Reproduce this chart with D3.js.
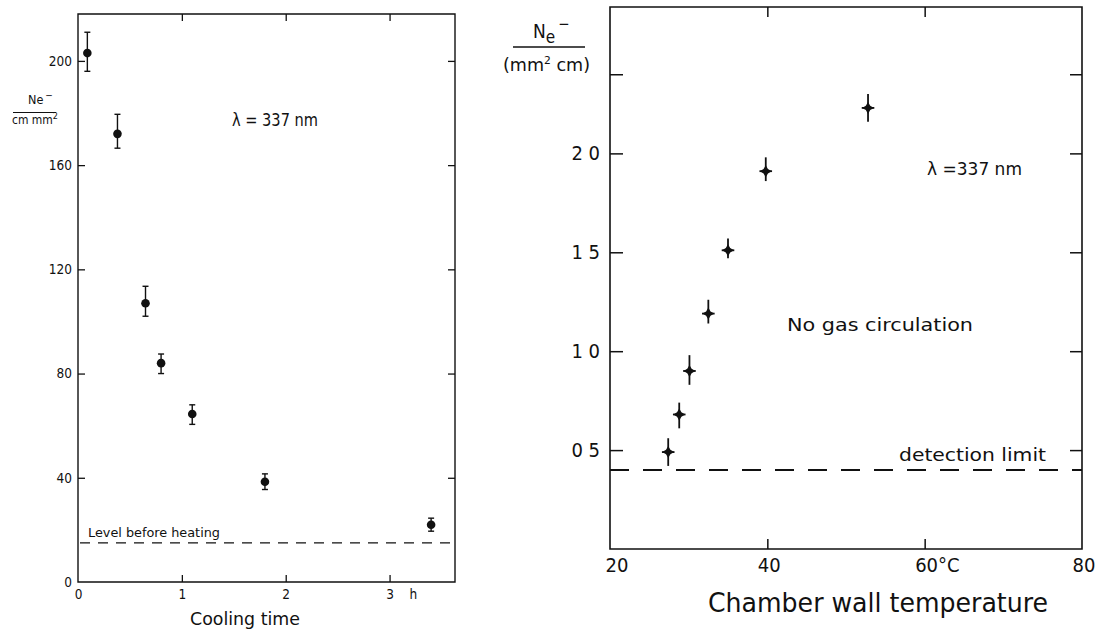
<!DOCTYPE html>
<html>
<head>
<meta charset="utf-8">
<script src="https://cdn.jsdelivr.net/npm/d3@7"></script>
<style>
  html, body { margin: 0; padding: 0; background: #fff; }
  svg { display: block; }
  text { font-family: "DejaVu Sans Condensed", "Liberation Sans Narrow", "DejaVu Sans", sans-serif; fill: #111; }
</style>
</head>
<body>
<svg id="chart" width="1096" height="629"></svg>
<script>
// ---------- Left panel data (cooling time) ----------
const coolTime   = [0.09, 0.38, 0.65, 0.80, 1.10, 1.80, 3.40];
const coolValue  = [203, 172, 107, 84, 64.5, 38.5, 22];
const coolErrHi  = [211, 179.5, 113.5, 87.5, 68, 41.5, 24.5];
const coolErrLo  = [196, 166.5, 102, 80, 60.5, 35.5, 19.5];
const levelBeforeHeating = 15;
const leftYTicks = [0, 40, 80, 120, 160, 200];
const leftYTickLabels = ["0", "40", "80", "120", "160", "200"];
const leftXTicks = [0, 1, 2, 3];
const leftXTickLabels = ["0", "1", "2", "3"];

// ---------- Right panel data (chamber wall temperature) ----------
const wallTemp   = [27.4, 28.8, 30.1, 32.5, 35.0, 39.8, 52.8];
const wallTempErr = [0.8, 0.8, 0.8, 0.8, 0.8, 0.8, 0.8];
const neValue    = [0.49, 0.68, 0.90, 1.19, 1.51, 1.91, 2.23];
const neErrHi    = [0.56, 0.74, 0.98, 1.26, 1.57, 1.98, 2.30];
const neErrLo    = [0.42, 0.61, 0.83, 1.14, 1.47, 1.86, 2.16];
const detectionLimit = 0.40;
const rightXTicks = [20, 40, 60, 80];
const rightXTickLabels = ["20", "40", "60°C", "80"];
const rightYTicks = [0.5, 1.0, 1.5, 2.0, 2.4];
const rightYTickLabels = ["0 5", "1 0", "1 5", "2 0", ""];

const svg = d3.select("#chart");
const ink = "#111";

function fitText(sel, w) {
  sel.attr("textLength", w).attr("lengthAdjust", "spacingAndGlyphs");
  return sel;
}

// =================== LEFT PANEL ===================
const L = { x0: 78, x1: 455, y0: 14, y1: 582 };
const xL = d3.scaleLinear().domain([0, 3.63]).range([L.x0, L.x1]);
const yL = d3.scaleLinear().domain([0, 218]).range([L.y1, L.y0]);

const gL = svg.append("g");
gL.append("path")
  .attr("d", `M${L.x0},${L.y0}H${L.x1}V${L.y1}H${L.x0}Z`)
  .attr("fill", "none").attr("stroke", ink).attr("stroke-width", 1.4);

const tickLabelIdx = (arr, labels) => (d) => labels[arr.indexOf(d)];

const axL = gL.append("g").attr("transform", `translate(${L.x0},0)`)
  .call(d3.axisLeft(yL).tickValues(leftYTicks).tickFormat(tickLabelIdx(leftYTicks, leftYTickLabels))
    .tickSizeInner(-7).tickSizeOuter(0).tickPadding(6));
const axLR = gL.append("g").attr("transform", `translate(${L.x1},0)`)
  .call(d3.axisRight(yL).tickValues(leftYTicks.filter(d => d > 0)).tickFormat("")
    .tickSizeInner(-7).tickSizeOuter(0));
const axLB = gL.append("g").attr("transform", `translate(0,${L.y1})`)
  .call(d3.axisBottom(xL).tickValues(leftXTicks).tickFormat(tickLabelIdx(leftXTicks, leftXTickLabels))
    .tickSizeInner(-7).tickSizeOuter(0).tickPadding(7));
const axLT = gL.append("g").attr("transform", `translate(0,${L.y0})`)
  .call(d3.axisTop(xL).tickValues(leftXTicks.filter(d => d > 0)).tickFormat("")
    .tickSizeInner(-7).tickSizeOuter(0));
[axL, axLR, axLB, axLT].forEach(a => {
  a.select(".domain").remove();
  a.selectAll("line").attr("stroke", ink).attr("stroke-width", 1.3);
  a.selectAll("text").attr("font-size", 13.5).attr("fill", ink)
    .style("font-family", '"DejaVu Sans Condensed", sans-serif');
});
axL.selectAll(".tick").filter(d => d === 0).select("line").remove();
axLB.selectAll(".tick").filter(d => d === 0).select("line").remove();
gL.append("text").attr("x", xL(3) + 20).attr("y", 599).attr("font-size", 13.5)
  .attr("fill", ink).style("fill", ink).text("h");

// level before heating
gL.append("line")
  .attr("x1", L.x0 + 2).attr("x2", L.x1)
  .attr("y1", yL(levelBeforeHeating)).attr("y2", yL(levelBeforeHeating))
  .attr("stroke", ink).attr("stroke-width", 1.3).attr("stroke-dasharray", "10,8");
fitText(gL.append("text").attr("x", 88).attr("y", 537).attr("font-size", 13).text("Level before heating"), 132);

// points with error bars
const leftPts = coolTime.map((t, i) => ({ t, v: coolValue[i], hi: coolErrHi[i], lo: coolErrLo[i] }));
const eb = gL.selectAll("g.eb").data(leftPts).join("g").attr("class", "eb");
eb.append("line").attr("x1", d => xL(d.t)).attr("x2", d => xL(d.t))
  .attr("y1", d => yL(d.hi)).attr("y2", d => yL(d.lo)).attr("stroke", ink).attr("stroke-width", 1.4);
eb.append("line").attr("x1", d => xL(d.t) - 3).attr("x2", d => xL(d.t) + 3)
  .attr("y1", d => yL(d.hi)).attr("y2", d => yL(d.hi)).attr("stroke", ink).attr("stroke-width", 1.4);
eb.append("line").attr("x1", d => xL(d.t) - 3).attr("x2", d => xL(d.t) + 3)
  .attr("y1", d => yL(d.lo)).attr("y2", d => yL(d.lo)).attr("stroke", ink).attr("stroke-width", 1.4);
eb.append("circle").attr("cx", d => xL(d.t)).attr("cy", d => yL(d.v)).attr("r", 4.3).attr("fill", ink);

// y label fraction
gL.append("text").attr("x", 28).attr("y", 104).attr("font-size", 12.5)
  .html('Ne<tspan dx="2" dy="-5" font-size="10">−</tspan>');
gL.append("line").attr("x1", 13).attr("x2", 56).attr("y1", 112.5).attr("y2", 112.5)
  .attr("stroke", ink).attr("stroke-width", 1);
fitText(gL.append("text").attr("x", 12).attr("y", 124).attr("font-size", 12)
  .html('cm mm<tspan dy="-5" font-size="9">2</tspan>'), 46);

fitText(gL.append("text").attr("x", 232).attr("y", 126).attr("font-size", 18).text("λ = 337 nm"), 86);
fitText(gL.append("text").attr("x", 190).attr("y", 625).attr("font-size", 18).text("Cooling time"), 110);

// =================== RIGHT PANEL ===================
const R = { x0: 610, x1: 1082, y0: 7, y1: 549 };
const xR = d3.scaleLinear().domain([20, 80]).range([R.x0, R.x1]);
const yR = d3.scaleLinear().domain([0, 2.74]).range([R.y1, R.y0]);

const gR = svg.append("g");
gR.append("path")
  .attr("d", `M${R.x0},${R.y0}H${R.x1}V${R.y1}H${R.x0}Z`)
  .attr("fill", "none").attr("stroke", ink).attr("stroke-width", 1.6);

const axRL = gR.append("g").attr("transform", `translate(${R.x0},0)`)
  .call(d3.axisLeft(yR).tickValues(rightYTicks).tickFormat(tickLabelIdx(rightYTicks, rightYTickLabels))
    .tickSizeInner(-13).tickSizeOuter(0).tickPadding(10));
const axRR = gR.append("g").attr("transform", `translate(${R.x1},0)`)
  .call(d3.axisRight(yR).tickValues(rightYTicks).tickFormat("")
    .tickSizeInner(-12).tickSizeOuter(0));
const axRB = gR.append("g").attr("transform", `translate(0,${R.y1})`)
  .call(d3.axisBottom(xR).tickValues(rightXTicks).tickFormat(tickLabelIdx(rightXTicks, rightXTickLabels))
    .tickSizeInner(-10).tickSizeOuter(0).tickPadding(9));
const axRT = gR.append("g").attr("transform", `translate(0,${R.y0})`)
  .call(d3.axisTop(xR).tickValues(rightXTicks.filter(d => d > 20 && d < 80)).tickFormat("")
    .tickSizeInner(-10).tickSizeOuter(0));
[axRL, axRR, axRB, axRT].forEach(a => {
  a.select(".domain").remove();
  a.selectAll("line").attr("stroke", ink).attr("stroke-width", 1.5);
  a.selectAll("text").attr("font-size", 20).attr("fill", ink)
    .style("font-family", '"DejaVu Sans Condensed", sans-serif');
});
axRB.selectAll(".tick").filter(d => d === 20 || d === 80).select("line").remove();
axRB.selectAll("text").attr("text-anchor", "start").attr("x", -10);
axRB.selectAll(".tick").filter(d => d === 20).select("text").attr("x", -5);

// detection limit
gR.append("line")
  .attr("x1", R.x0).attr("x2", R.x1)
  .attr("y1", yR(detectionLimit)).attr("y2", yR(detectionLimit))
  .attr("stroke", ink).attr("stroke-width", 2).attr("stroke-dasharray", "19,14");
fitText(gR.append("text").attr("x", 899).attr("y", 461).attr("font-size", 18).text("detection limit"), 147);

// points with error bars (4-point star)
const rightPts = wallTemp.map((t, i) => ({ t, te: wallTempErr[i], v: neValue[i], hi: neErrHi[i], lo: neErrLo[i] }));
const star = (cx, cy, a, b) =>
  `M${cx - a},${cy}L${cx - b},${cy - b}L${cx},${cy - a}L${cx + b},${cy - b}L${cx + a},${cy}L${cx + b},${cy + b}L${cx},${cy + a}L${cx - b},${cy + b}Z`;
const pr = gR.selectAll("g.pt").data(rightPts).join("g").attr("class", "pt");
pr.append("line").attr("x1", d => xR(d.t)).attr("x2", d => xR(d.t))
  .attr("y1", d => yR(d.hi)).attr("y2", d => yR(d.lo)).attr("stroke", ink).attr("stroke-width", 1.8);
pr.append("line").attr("x1", d => xR(d.t - d.te)).attr("x2", d => xR(d.t + d.te))
  .attr("y1", d => yR(d.v)).attr("y2", d => yR(d.v)).attr("stroke", ink).attr("stroke-width", 1.8);
pr.append("path").attr("d", d => star(xR(d.t), yR(d.v), 6, 2.2)).attr("fill", ink);

// y label
gR.append("text").attr("x", 533).attr("y", 38).attr("font-size", 19)
  .html('N<tspan dy="5" font-size="17">e</tspan><tspan dx="3" dy="-14" font-size="15">−</tspan>');
gR.append("line").attr("x1", 513).attr("x2", 585).attr("y1", 47).attr("y2", 47)
  .attr("stroke", ink).attr("stroke-width", 1.5);
fitText(gR.append("text").attr("x", 503).attr("y", 71).attr("font-size", 18)
  .html('(mm<tspan dy="-7" font-size="11">2</tspan><tspan dy="7"> cm)</tspan>'), 87);

fitText(gR.append("text").attr("x", 927).attr("y", 175).attr("font-size", 18).text("λ =337 nm"), 95);
fitText(gR.append("text").attr("x", 787).attr("y", 331).attr("font-size", 18).text("No gas circulation"), 186);
fitText(gR.append("text").attr("x", 708).attr("y", 612).attr("font-size", 27).text("Chamber wall temperature"), 340);
</script>
</body>
</html>
